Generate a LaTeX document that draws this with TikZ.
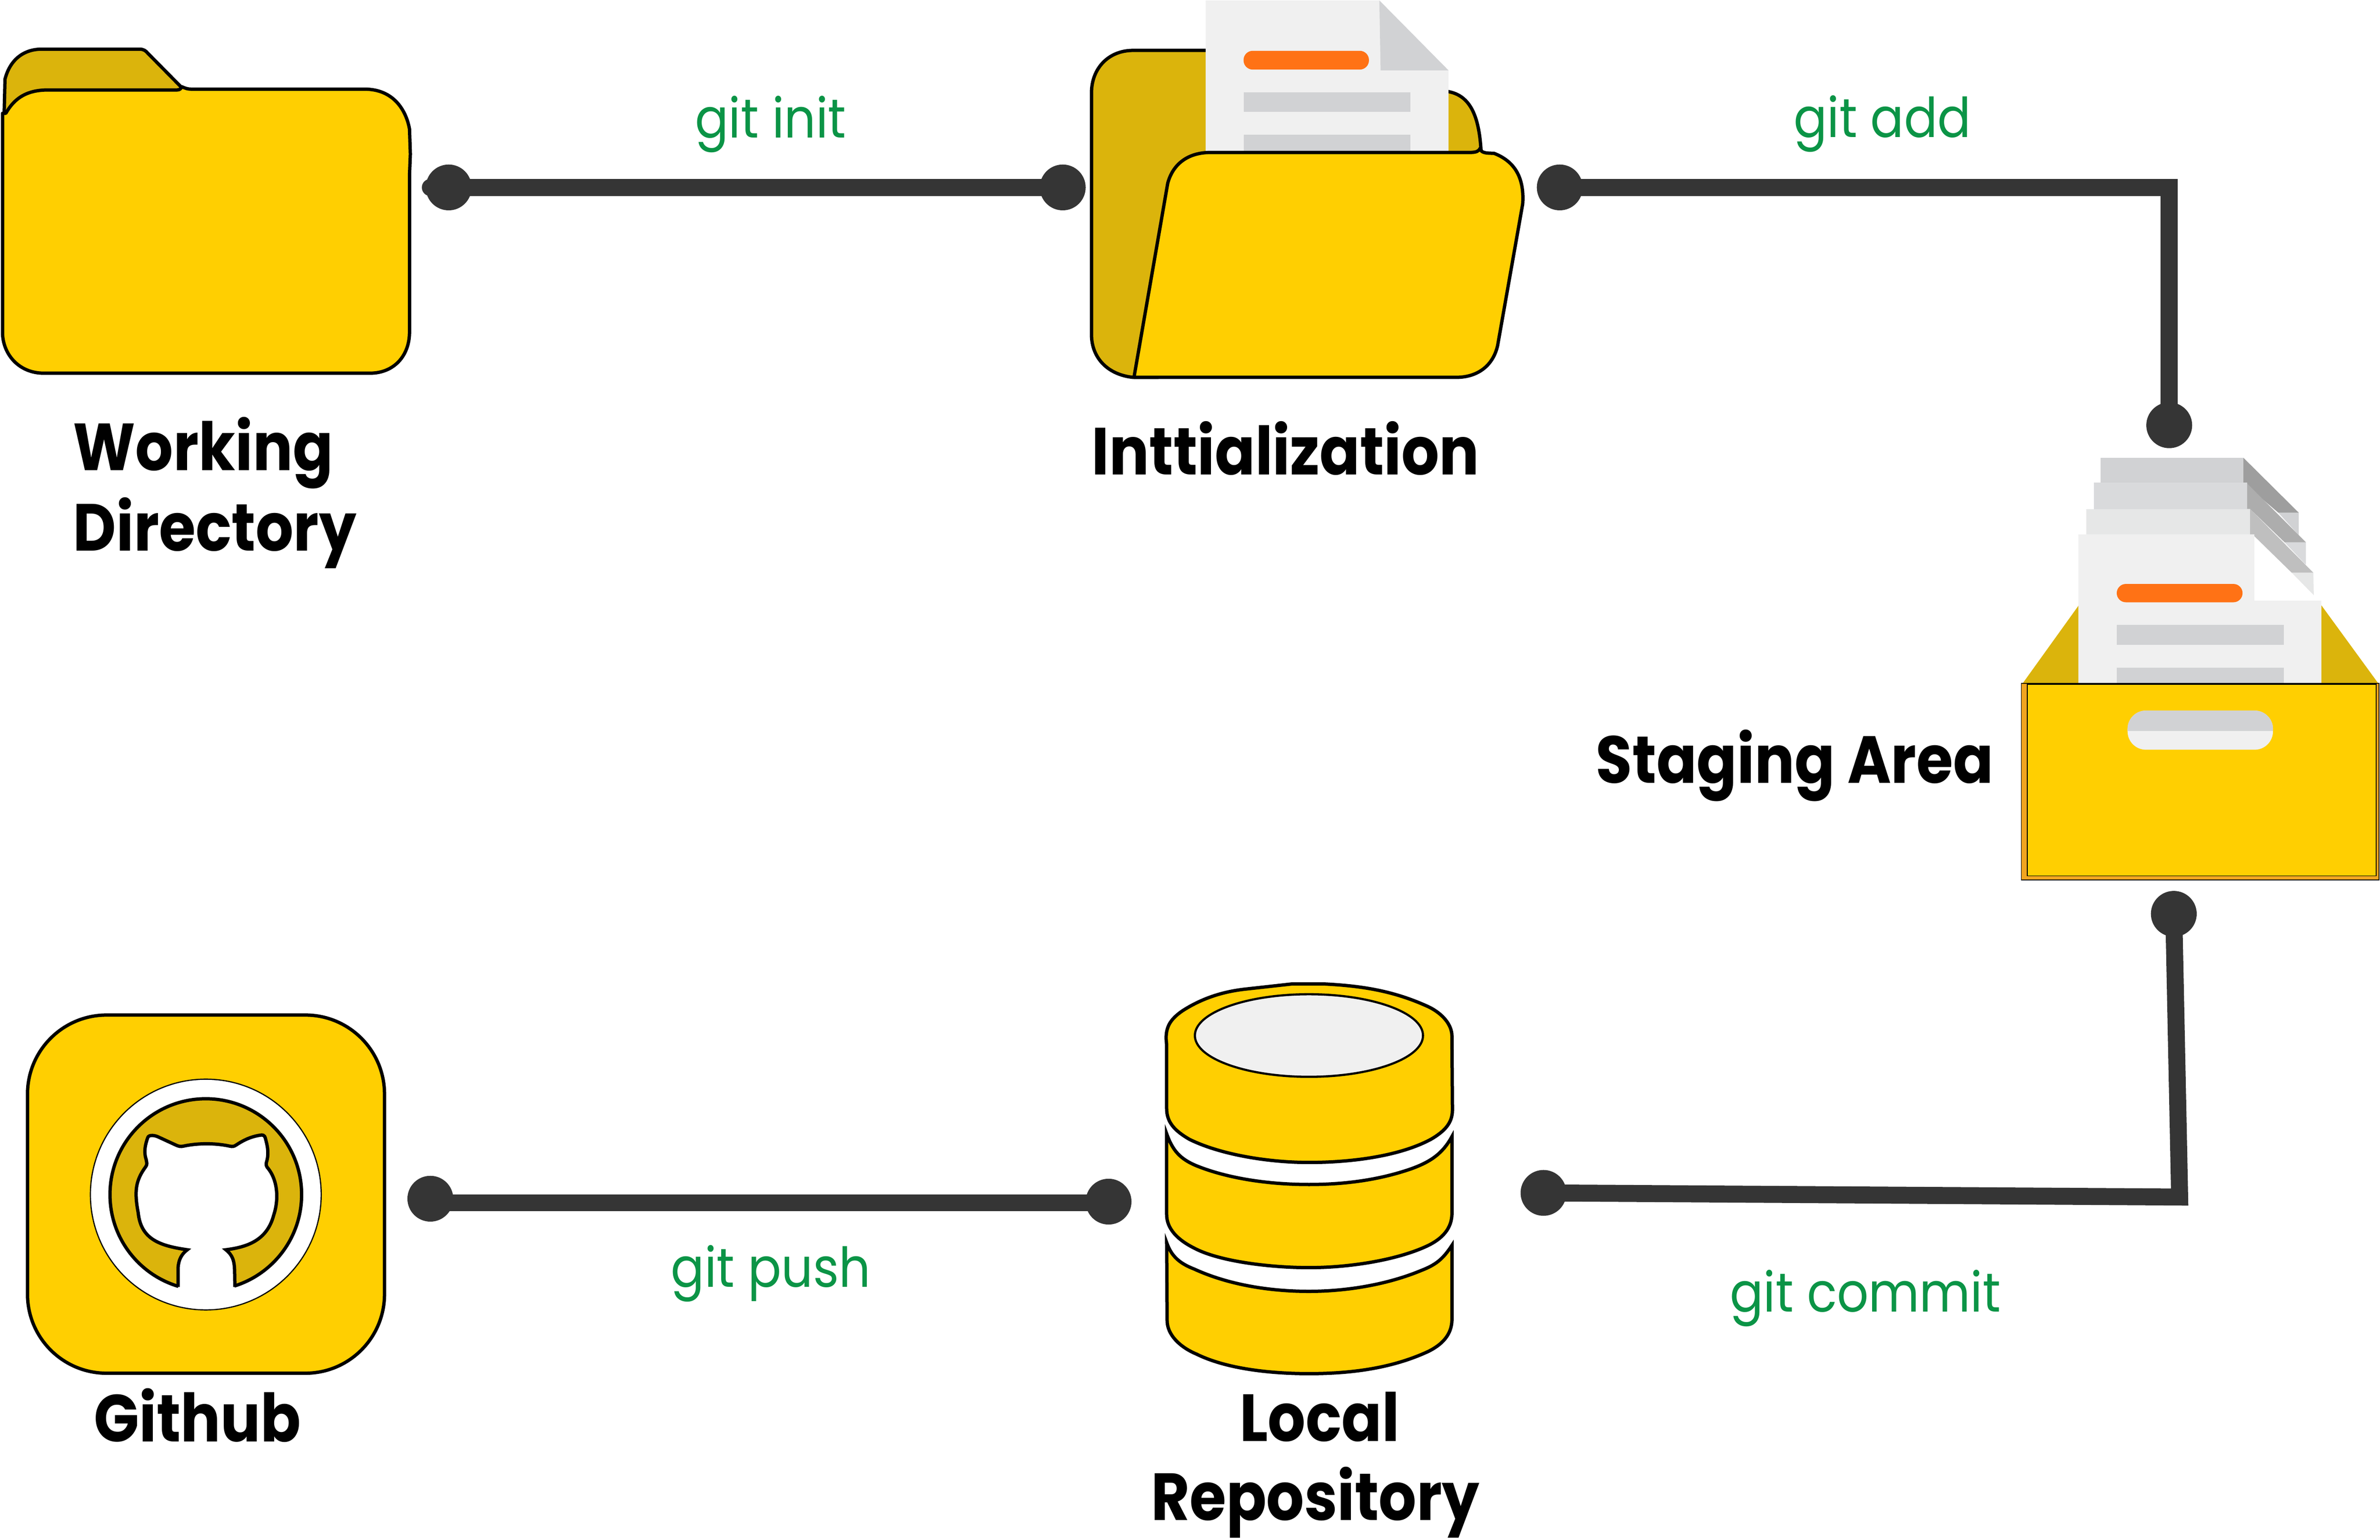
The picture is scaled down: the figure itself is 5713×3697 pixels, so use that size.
\documentclass[tikz,border=0pt]{standalone}
\usepackage{fontspec}
\newfontfamily\hd{Poppins}[BoldFont={* Bold},FakeStretch=0.89]
\newfontfamily\gt{Poppins}[FakeStretch=0.9]
\definecolor{yel}{HTML}{FFCF01}
\definecolor{dyel}{HTML}{DBB40C}
\definecolor{cable}{HTML}{353535}
\definecolor{pap}{HTML}{F0F0F0}
\definecolor{pgrey}{HTML}{D1D2D4}
\definecolor{org}{HTML}{FF7215}
\definecolor{grn}{HTML}{0B9446}
\tikzset{
 x=0.25pt,y=-0.25pt,
 ol/.style={draw=black,line width=2pt,line join=round},
 cablel/.style={draw=cable,line width=10.2pt},
 dotn/.style={circle,fill=cable,minimum size=27.5pt,inner sep=0pt},
 head/.style={font=\hd\bfseries\fontsize{40}{48.5}\selectfont,text=black,anchor=base west,inner sep=0pt,align=left},
 gitl/.style={font=\gt\fontsize{33}{40}\selectfont,text=grn,anchor=base west,inner sep=0pt},
}
\begin{document}
\begin{tikzpicture}
\useasboundingbox (0,0) rectangle (5713,3697);
% ---------- Working directory folder
\path[ol,fill=dyel] (10,272) -- (12,190) .. controls (25,140) and (60,118) .. (100,118) -- (335,118) .. controls (345,118) and (350,122) .. (355,128) -- (436,210) -- (430,218) -- (115,218) -- cycle;
\path[ol,fill=yel] (14,272) .. controls (35,235) and (65,216) .. (115,216) -- (425,216) .. controls (432,216) and (435,212) .. (436,208) .. controls (445,212) and (450,214) .. (460,214) -- (875,214) .. controls (945,214) and (975,265) .. (983,310) -- (985,370) -- (983,420) -- (983,797) .. controls (983,855) and (945,896) .. (888,896) -- (105,896) .. controls (45,896) and (6,850) .. (6,797) -- (6,272) -- cycle;
% ---------- Initialization folder
\path[ol,fill=dyel] (2620,223) .. controls (2620,165) and (2660,121) .. (2720,121) -- (3250,121) -- (3330,220) -- (3477,220) .. controls (3530,230) and (3550,280) .. (3555,360) -- (3553,366) -- (3536,366) -- (2780,906) -- (2720,906) .. controls (2660,900) and (2620,860) .. (2620,803) -- cycle;
\path[fill=pap] (2894,1) -- (3311,1) -- (3477,169) -- (3477,362) -- (2894,362) -- cycle;
\path[fill=pgrey] (3311,1) -- (3314,169) -- (3477,169) -- cycle;
\path[fill=org,rounded corners=5.5pt] (2985,122) rectangle (3286,167);
\path[fill=pgrey] (2985,222) rectangle (3386,269);
\path[fill=pgrey] (2985,323) rectangle (3386,362);
\path[ol,fill=yel] (2722,906) -- (2803,440) .. controls (2815,395) and (2850,366) .. (2906,366) -- (3530,366) .. controls (3545,366) and (3550,362) .. (3553,356) .. controls (3555,365) and (3560,368) .. (3586,368) .. controls (3630,385) and (3660,420) .. (3655,490) -- (3595,829) .. controls (3585,875) and (3550,906) .. (3495,906) -- cycle;
% ---------- Staging area
\path[fill=pgrey] (5469,1231) -- (5518,1231) -- (5518,1285) -- cycle;
\path[fill=pgrey] (5042,1099) rectangle (5385,1159);
\path[fill=black!38] (5385,1099) -- (5518,1231) -- (5469,1231) -- (5385,1159) -- cycle;
\definecolor{s2}{HTML}{D9DADC}\definecolor{s1}{HTML}{E6E7E7}
\path[fill=s2] (5484,1302) -- (5535,1302) -- (5535,1356) -- cycle;
\path[fill=s2] (5026,1159) rectangle (5394,1222);
\path[fill=black!32] (5394,1161) -- (5535,1302) -- (5484,1302) -- (5401,1222) -- (5394,1222) -- cycle;
\path[fill=s1] (5501,1375) -- (5553,1375) -- (5554,1429) -- cycle;
\path[fill=s1] (5008,1222) rectangle (5401,1283);
\path[fill=black!25] (5401,1222) -- (5553,1375) -- (5501,1375) -- (5411,1287) -- (5401,1283) -- cycle;
\path[fill=dyel] (4855,1641) -- (4990,1453) -- (4990,1641) -- cycle;
\path[fill=dyel] (5572,1453) -- (5709,1641) -- (5572,1641) -- cycle;
\path[fill=pap] (4989,1283) -- (5411,1283) -- (5411,1442) -- (5572,1442) -- (5572,1641) -- (4989,1641) -- cycle;
\path[fill=org,rounded corners=5.5pt] (5081,1402) rectangle (5383,1446);
\path[fill=pgrey] (5081,1500) rectangle (5482,1548);
\path[fill=pgrey] (5081,1603) rectangle (5482,1641);
\definecolor{oedge}{HTML}{F2A51F}
\path[fill=oedge,draw=black,line width=0.5pt] (4852,1641) rectangle (5711,2113);
\path[fill=yel,draw=black,line width=0.5pt] (4866,1643) rectangle (5704,2103);
\path[fill=pap,rounded corners=11pt] (5107,1706) rectangle (5456,1800);
\begin{scope}
\clip (5100,1700) rectangle (5460,1754);
\path[fill=pgrey,rounded corners=11pt] (5107,1706) rectangle (5456,1800);
\end{scope}
% ---------- Local repository
\begin{scope}[shift={(2700,2300)},xscale=0.574,yscale=0.6698]
\path[ol,fill=yel,line join=miter] (175,1020) -- (177,1300) .. controls (177,1350) and (230,1395) .. (300,1420) .. controls (430,1475) and (620,1490) .. (770,1490) .. controls (950,1490) and (1120,1470) .. (1270,1410) .. controls (1340,1380) and (1370,1340) .. (1368,1290) -- (1368,1030) .. controls (1330,1080) and (1300,1100) .. (1240,1120) .. controls (1100,1170) and (930,1195) .. (770,1195) .. controls (600,1195) and (430,1170) .. (290,1115) .. controls (230,1095) and (195,1070) .. (175,1020) -- cycle;
\path[ol,fill=yel,line join=miter] (175,630) -- (175,920) .. controls (175,970) and (220,1010) .. (290,1040) .. controls (400,1090) and (620,1110) .. (770,1110) .. controls (950,1110) and (1150,1080) .. (1270,1030) .. controls (1340,1000) and (1370,960) .. (1368,910) -- (1368,640) .. controls (1330,700) and (1280,730) .. (1200,755) .. controls (1050,800) and (900,812) .. (770,812) .. controls (600,812) and (430,790) .. (300,745) .. controls (230,720) and (200,690) .. (175,630) -- cycle;
\path[ol,fill=yel] (175,540) -- (175,310) .. controls (165,250) and (190,220) .. (240,190) .. controls (330,140) and (420,120) .. (500,112) -- (700,93) -- (830,93) .. controls (1000,100) and (1130,120) .. (1270,175) .. controls (1330,200) and (1368,240) .. (1368,280) -- (1370,545) .. controls (1370,590) and (1340,620) .. (1280,650) .. controls (1150,710) and (950,733) .. (770,733) .. controls (600,733) and (400,705) .. (270,650) .. controls (210,620) and (175,590) .. (175,540) -- cycle;
\path[ol,fill=pap,line width=1.3pt] (770,278) ellipse [x radius=477,y radius=148];
\end{scope}
% ---------- Github
\path[ol,fill=yel,rounded corners=47.5pt] (66,2437) rectangle (923,3297);
\path[draw=black,line width=0.7pt,fill=white] (494,2868) circle [radius=277];
\path[ol,fill=dyel] (494,2868) circle [radius=230];
\begin{scope}[shift={(0,2350)},scale=0.6378]
\path[fill=white] (670,1155) -- (670,1090) .. controls (672,1055) and (685,1035) .. (705,1020) .. controls (600,1005) and (530,980) .. (520,880) .. controls (505,800) and (510,760) .. (548,708) .. controls (555,700) and (552,690) .. (550,680) .. controls (540,650) and (548,620) .. (556,598) .. controls (560,585) and (585,590) .. (595,595) -- (660,625) .. controls (675,632) and (680,632) .. (690,630) .. controls (745,618) and (810,618) .. (865,630) .. controls (875,632) and (880,632) .. (890,625) .. controls (920,605) and (950,592) .. (985,588) .. controls (995,588) and (998,595) .. (1000,605) .. controls (1008,635) and (1012,660) .. (1003,690) .. controls (1000,700) and (1003,708) .. (1010,715) .. controls (1045,760) and (1050,830) .. (1030,890) .. controls (1005,985) and (930,1010) .. (850,1020) .. controls (875,1040) and (882,1060) .. (883,1100) -- (884,1160) -- (884,1190) -- (670,1190) -- cycle;
\path[ol,line join=miter] (670,1160) -- (670,1090) .. controls (672,1055) and (685,1035) .. (705,1020) .. controls (600,1005) and (530,980) .. (520,880) .. controls (505,800) and (510,760) .. (548,708) .. controls (555,700) and (552,690) .. (550,680) .. controls (540,650) and (548,620) .. (556,598) .. controls (560,585) and (585,590) .. (595,595) -- (660,625) .. controls (675,632) and (680,632) .. (690,630) .. controls (745,618) and (810,618) .. (865,630) .. controls (875,632) and (880,632) .. (890,625) .. controls (920,605) and (950,592) .. (985,588) .. controls (995,588) and (998,595) .. (1000,605) .. controls (1008,635) and (1012,660) .. (1003,690) .. controls (1000,700) and (1003,708) .. (1010,715) .. controls (1045,760) and (1050,830) .. (1030,890) .. controls (1005,985) and (930,1010) .. (850,1020) .. controls (875,1040) and (882,1060) .. (883,1100) -- (884,1160);
\end{scope}
% ---------- Connectors
\node[dotn] (a1) at (1077,450) {};
\node[dotn] (a2) at (2551,450) {};
\node[dotn] (b1) at (3744,450) {};
\node[dotn] (b2) at (5207,1021) {};
\node[dotn] (c1) at (5218,2194) {};
\node[dotn] (c2) at (3705,2864) {};
\node[dotn] (d1) at (2661,2885) {};
\node[dotn] (d2) at (1033,2878) {};
\coordinate (a0) at (1033,450);
\coordinate (bc) at (5207,450);
\coordinate (cc) at (5232,2874);
\coordinate (dr) at (2661,2888);
\coordinate (dl) at (1033,2888);
\path[cablel,line cap=round] (a0) -- (a2.center);
\path[cablel,line join=miter] (b1.center) -- (bc) -- (b2.center);
\path[cablel,line join=miter] (c1.center) -- (cc) -- (c2.center);
\path[cablel] (dr) -- (dl);
% ---------- Labels
\node[head] (t1) at (175,1323) {Working\\Directory};
\node[head] (t2) at (2620,1140) {Inttialization};
\node[head] (t3) at (3830,1880) {Staging Area};
\node[head] (t4) at (225,3462) {Github};
\node[head] (t5) at (2975,3460) {Local};
\node[head] (t6) at (2762,3650) {Repository};
\node[gitl] (g1) at (1668,331) {git init};
\node[gitl] (g2) at (4305,330) {git add};
\node[gitl] (g3) at (1610,3090) {git push};
\node[gitl] (g4) at (4152,3150) {git commit};
\end{tikzpicture}
\end{document}
